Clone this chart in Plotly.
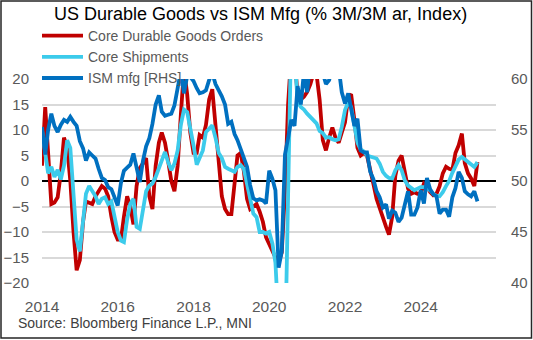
import pandas as pd
import plotly.graph_objects as go

# Monthly observations, Jan 2014 - Jul 2025
dates = pd.date_range("2014-01-01", periods=139, freq="MS")

core_orders = [
    3, 14.5, 5.5, -4.5, -4.2, -3.2, 1.5, 8.5, 6.5, 0, -10, -17.5,
    -15.5, -8, -4, -4.2, -4.5, -3, -2, -1, -1.5, -3, -7, -10,
    -11.5, -11.5, -7, -3, -5, -8.5, -1, 2.5, 3.5, 4.5, -3, -5.5,
    3, 7.5, 9.5, 7.5, 4, 0, -2, 3, 13, 22, 17, 9.5,
    5.5, 5.5, 9, 8.5, 11, 16, 18, 10.5, 2.5, -3, -5.5, -6.5,
    -6.5, -0.5, 5, 5.5, 2, -3.5, -5.5, -5, -4.5, -6, -8, -11,
    -12.5, -14, -15, -16, -14, -2, 15, 25, 24, 17, 16, 16.5,
    17.5, 19, 21, 21, 16, 8, 6, 8.5, 10.5, 8.5, 7.5, 9.5,
    11.5, 16.5, 17, 12, 6.5, 5, 5.5, 5, 2.5, -0.5, -3.5, -5.5,
    -7, -9, -10.5, -7, 1, 4, 5, 1.5, -1.5, -2.5, -2.2, -2.5,
    -2.5, -0.5, -1, -2.2, -2.8, -2.5, -1, 1.5, 2.8, 2.4, 2.2, 5.5,
    7, 9.3, 3.5, 1.5, 0.5, -1, 3.7,
]

core_shipments = [
    10, 5, 1.5, 2.8, 0.8, 2.2, 0.3, 3, 8, 6.5, -4, -11.5,
    -13.8, -8, -2.5, -1, -2, -3, -4.5, -3.5, -3.2, -4.5, -4, -7,
    -10, -11.7, -12, -7.5, -4.5, -3.5, -9, -9.4, -6, -2, -0.9, -0.5,
    0.8, 2.4, 4, 5.7, 3.7, 2.1, 3.4, 6, 11, 14, 13.5, 10.5,
    7, 3.2, 4.7, 6, 9.6, 10.3, 10.9, 8.5, 5.5, 4.5, 2.75, 2.4,
    2.1, 1.8, 2.75, 3.1, 2.4, -0.5, -4, -6.4, -7.1, -10, -10, -10.3,
    -10, -12.3, -16, -35, -40, -35, -5, 30, 25, 15.5, 14.5, 14,
    13.2, 12.5, 11.8, 11.3, 9.8, 9.4, 8.5, 8.6, 8.2, 8, 8.2, 10.6,
    13.9, 15.5, 14.5, 10.5, 7.5, 6.2, 5.8, 5, 4.7, 4.6, 4.4, 3.4,
    1.8, 1.0, 0.6, 0.5, 2.1, 3.1, 2.1, 0.1, -0.9, -1.4, -1.8, -1.5,
    -1.2, -1.2, -1.4, -1.8, -2.5, -2.9, -3, -2.2, -1.0, 0, 1.6, 3.0,
    4.2, 4.7, 4.2, 3.8, 3.2, 2.75, 3.7,
]

ism_mfg = [
    55.3, 52.6, 55.0, 56.6, 55.4, 54.8, 55.5, 56.0, 55.8, 56.3, 55.8, 55.4,
    53.9, 53.2, 52.0, 52.8, 52.5, 52.2, 51.2, 50.3, 50.1, 49.4, 49.2, 48.5,
    47.6, 49.8, 51.0, 51.3, 51.6, 52.7, 51.5, 49.9, 52.0, 53.4, 54.2, 55.6,
    57.5, 58.4, 56.8, 56.4, 56.5, 56.6, 57.4, 59.5, 60.8, 58.6, 60.3, 60.2,
    59.8, 59.1, 58.6, 58.7, 58.9, 59.9, 60.6, 59.5, 58.9, 58.3, 57.5, 55.6,
    55.8, 54.6, 54.0, 53.2, 52.2, 51.4, 49.6, 48.3, 48.1, 48.2, 48.1, 47.8,
    51.0, 50.2, 49.1, 41.5, 43.1, 52.6, 54.2, 56.0, 55.4, 59.3, 57.5, 60.7,
    58.7, 60.8, 64.7, 60.7, 61.2, 60.6, 59.5, 59.9, 61.1, 60.8, 61.1, 58.7,
    57.6, 58.6, 57.1, 55.4, 56.1, 53.0, 52.8, 52.8, 50.9, 50.2, 49.0, 48.4,
    47.4, 47.7, 46.3, 47.1, 46.9, 46.0, 46.4, 47.6, 49.0, 46.7, 46.7, 47.4,
    49.1, 47.8, 50.3, 49.2, 48.7, 48.5, 46.8, 47.2, 47.2, 46.5, 48.4, 49.3,
    50.9, 50.3, 49.0, 48.7, 48.5, 49.0, 48.0,
]

names = ["Core Durable Goods Orders", "Core Shipments", "ISM mfg [RHS]"]
colors = ["#C00000", "#3CCBEB", "#0070C0"]

title_text = "US Durable Goods vs ISM Mfg (% 3M/3M ar, Index)"
source_text = "Source: Bloomberg Finance L.P., MNI"

FONT = "Liberation Sans, Arial, sans-serif"
GREY = "#595959"

# plot area in pixels
W, H = 533, 340
L, R, T, B = 42, 37, 79, 57
PW, PH = W - L - R, H - T - B


def px_x(px):
    return (px - L) / PW


def px_y(py):
    return (H - B - py) / PH


fig = go.Figure()
fig.add_trace(go.Scatter(x=dates, y=core_orders, name=names[0], mode="lines",
                         line=dict(color=colors[0], width=3.8), yaxis="y"))
fig.add_trace(go.Scatter(x=dates, y=core_shipments, name=names[1], mode="lines",
                         line=dict(color=colors[1], width=3.8), yaxis="y"))
fig.add_trace(go.Scatter(x=dates, y=ism_mfg, name=names[2], mode="lines",
                         line=dict(color=colors[2], width=3.8), yaxis="y2"))

fig.update_layout(
    width=W, height=H,
    margin=dict(l=L, r=R, t=T, b=B, autoexpand=False),
    paper_bgcolor="white", plot_bgcolor="white",
    font=dict(family=FONT, color=GREY, size=15),
    showlegend=True,
    legend=dict(x=px_x(37), y=px_y(20), xanchor="left", yanchor="top",
                bgcolor="rgba(0,0,0,0)", font=dict(size=14, color=GREY),
                itemwidth=41, tracegroupgap=0),
    xaxis=dict(type="date", range=["2014-01-01", "2025-12-27"],
               tick0="2014-01-01", dtick="M24", tickformat="%Y",
               showgrid=False, zeroline=False, showline=False, ticks="",
               tickfont=dict(size=15.5, color=GREY), ticklabelstandoff=12),
    yaxis=dict(range=[-20, 20], dtick=5, showgrid=True, gridcolor="#D9D9D9",
               gridwidth=1.5, zeroline=True, zerolinecolor="#000000",
               zerolinewidth=2, showline=False, ticks="",
               tickfont=dict(size=15, color=GREY), ticklabelstandoff=12),
    yaxis2=dict(range=[40, 60], dtick=5, overlaying="y", side="right",
                showgrid=False, zeroline=False, showline=False, ticks="",
                tickfont=dict(size=15, color=GREY), ticklabelstandoff=14),
    annotations=[
        dict(text=title_text, xref="paper", yref="paper", x=px_x(260), y=px_y(14),
             xanchor="center", yanchor="middle", showarrow=False,
             font=dict(family=FONT, size=18, color="#000000")),
        dict(text=source_text, xref="paper", yref="paper", x=px_x(16), y=px_y(323),
             xanchor="left", yanchor="middle", showarrow=False,
             font=dict(family=FONT, size=14, color="#404040")),
    ],
    shapes=[
        dict(type="rect", xref="paper", yref="paper",
             x0=px_x(1), x1=px_x(531.5), y0=px_y(338), y1=px_y(1),
             line=dict(color="#262626", width=1.5), fillcolor="rgba(0,0,0,0)",
             layer="above"),
    ],
)

fig.write_html("out.html")
